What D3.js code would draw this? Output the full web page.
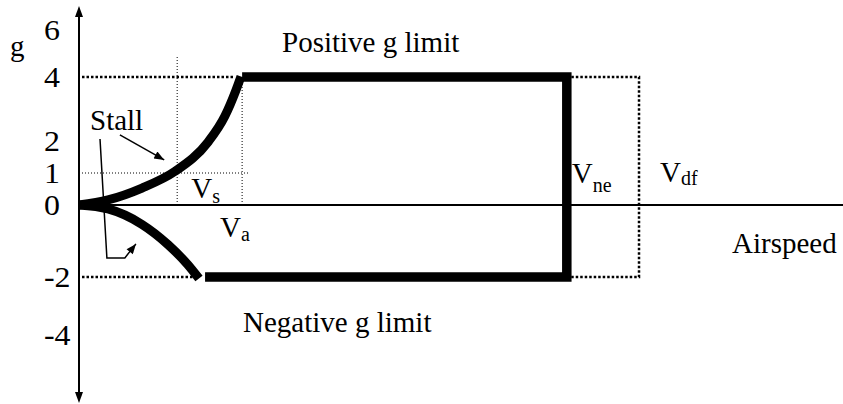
<!DOCTYPE html>
<html>
<head>
<meta charset="utf-8">
<script src="https://cdn.jsdelivr.net/npm/d3@7"></script>
<style>
  body { margin: 0; background: #fff; }
  svg { display: block; }
  text { font-family: 'Liberation Serif', 'Times New Roman', serif; fill: #000; }
</style>
</head>
<body>
<div id="chart"></div>
<script>
// g tick labels on the vertical axis
const gTicks = [6, 4, 2, 1, 0, -2, -4];

// stall curves (airspeed, g)
const posStallV = [0, 7.6, 16.5, 25.1, 33.8, 38.2, 41.1, 42.4];
const posStallG = [0, 0.16, 0.53, 1.05, 1.97, 2.78, 3.59, 4.02];
const negStallV = [0, 7.6, 16.5, 23.3, 28.5, 31.4];
const negStallG = [0, -0.11, -0.54, -1.1, -1.66, -2.05];

// speeds and limits
const vS = 25.7;
const vA = 42.7;
const vNegStart = 33.0;
const vNe = 127.7;
const vDf = 146.6;
const gPosLimit = 4;
const gNegLimit = -2;
const gStall = 1;
const vsLineTop = 4.85;

let width = 843;
let height = 404;

let svg = d3.select('#chart').append('svg')
  .attr('width', width)
  .attr('height', height);

let x = d3.scaleLinear()
  .domain([0, 200])
  .range([79, 843]);

let y = d3.scaleLinear()
  .domain([-4, -2, 0, 4, 6])
  .range([335, 277, 205, 77, 30]);

let defs = svg.append('defs');
defs.append('marker')
  .attr('id', 'head')
  .attr('viewBox', '0 0 10 8')
  .attr('refX', 10)
  .attr('refY', 4)
  .attr('markerWidth', 11)
  .attr('markerHeight', 8)
  .attr('markerUnits', 'userSpaceOnUse')
  .attr('orient', 'auto')
  .append('path')
  .attr('d', 'M0,0L10,4L0,8Z')
  .attr('fill', '#000');

// axes
svg.append('line')
  .attr('x1', x(0)).attr('x2', x(0))
  .attr('y1', 16).attr('y2', 394)
  .attr('stroke', '#000').attr('stroke-width', 2);
svg.append('path')
  .attr('d', `M${x(0)},6L${x(0) + 4},17L${x(0) - 4},17Z`)
  .attr('fill', '#000');
svg.append('path')
  .attr('d', `M${x(0)},403L${x(0) + 4},392L${x(0) - 4},392Z`)
  .attr('fill', '#000');

svg.append('line')
  .attr('x1', x(0)).attr('x2', width)
  .attr('y1', y(0)).attr('y2', y(0))
  .attr('stroke', '#000').attr('stroke-width', 2);

let yAxis = d3.axisLeft(y).tickValues(gTicks).tickSize(0).tickFormat(d => String(d));
let yAxisG = svg.append('g')
  .attr('transform', 'translate(44,0)')
  .call(yAxis);
yAxisG.select('.domain').remove();
yAxisG.attr('font-family', null).attr('font-size', null);
yAxisG.selectAll('text')
  .attr('x', 0)
  .attr('text-anchor', 'start')
  .attr('transform', 'scale(1.1,1)')
  .style('font-size', '29px');

// thin dotted guides
let thin = svg.append('g')
  .attr('stroke', '#000')
  .attr('stroke-width', 1)
  .attr('stroke-dasharray', '1,2')
  .attr('fill', 'none');
thin.append('line')
  .attr('x1', x(vS)).attr('x2', x(vS))
  .attr('y1', y(0)).attr('y2', y(vsLineTop));
thin.append('line')
  .attr('x1', x(vA)).attr('x2', x(vA))
  .attr('y1', y(0)).attr('y2', y(gPosLimit));
thin.append('line')
  .attr('x1', x(0)).attr('x2', x(vA) + 6)
  .attr('y1', y(gStall)).attr('y2', y(gStall));

// heavier dotted lines
let dotted = svg.append('g')
  .attr('stroke', '#000')
  .attr('stroke-width', 2.5)
  .attr('stroke-dasharray', '2.5,2')
  .attr('fill', 'none');
dotted.append('line')
  .attr('x1', x(0) + 3).attr('x2', x(40.8))
  .attr('y1', y(gPosLimit)).attr('y2', y(gPosLimit));
dotted.append('line')
  .attr('x1', x(0) + 3).attr('x2', x(30.5))
  .attr('y1', y(gNegLimit)).attr('y2', y(gNegLimit));
dotted.append('path')
  .attr('d', d3.line()([
    [x(vNe), y(gPosLimit)], [x(vDf), y(gPosLimit)],
    [x(vDf), y(gNegLimit)], [x(vNe), y(gNegLimit)]
  ]));

// flight envelope
let line = d3.line()
  .x(d => x(d[0]))
  .y(d => y(d[1]))
  .curve(d3.curveMonotoneX);

let env = svg.append('g')
  .attr('stroke', '#000')
  .attr('stroke-width', 9)
  .attr('fill', 'none');
env.append('path')
  .attr('d', line(d3.zip(posStallV, posStallG)));
env.append('path')
  .attr('d', line(d3.zip(negStallV, negStallG)));
env.append('path')
  .attr('stroke-linejoin', 'miter')
  .attr('stroke-width', 9.5)
  .attr('d', d3.line()([
    [x(vA), y(gPosLimit)], [x(vNe), y(gPosLimit)],
    [x(vNe), y(gNegLimit)], [x(vNegStart), y(gNegLimit)]
  ]));

// stall pointers
let pointer = d3.line().x(d => x(d[0])).y(d => y(d[1]));
svg.append('path')
  .attr('d', pointer([[10.7, 2.19], [22.3, 1.41]]))
  .attr('stroke', '#000').attr('stroke-width', 1.5).attr('fill', 'none')
  .attr('marker-end', 'url(#head)');
svg.append('path')
  .attr('d', pointer([[5.5, 2.06], [7.3, -1.47], [12.0, -1.47], [14.9, -1.08]]))
  .attr('stroke', '#000').attr('stroke-width', 1.5).attr('fill', 'none')
  .attr('marker-end', 'url(#head)');

// labels
let big = '29px';
svg.append('text').attr('x', 10).attr('y', 56).style('font-size', big).text('g');
svg.append('text').attr('x', 282).attr('y', 52).style('font-size', big).text('Positive g limit');
svg.append('text').attr('x', 243).attr('y', 332).style('font-size', big).text('Negative g limit');
svg.append('text').attr('x', 90).attr('y', 130).style('font-size', big).text('Stall');
svg.append('text').attr('x', 732).attr('y', 253).style('font-size', big).text('Airspeed');

function speedLabel(px, py, sub, subDy) {
  let t = svg.append('text').attr('x', px).attr('y', py);
  t.append('tspan').style('font-size', big).text('V');
  t.append('tspan').attr('dy', subDy).style('font-size', '20px').text(sub);
}
speedLabel(x(vS) + 14, y(0) - 7, 's', 5);
speedLabel(x(vA) - 22, y(0) + 32, 'a', 4);
speedLabel(x(vNe) + 5, 183, 'ne', 9);
speedLabel(x(vDf) + 21, 182, 'df', 3);
</script>
</body>
</html>
